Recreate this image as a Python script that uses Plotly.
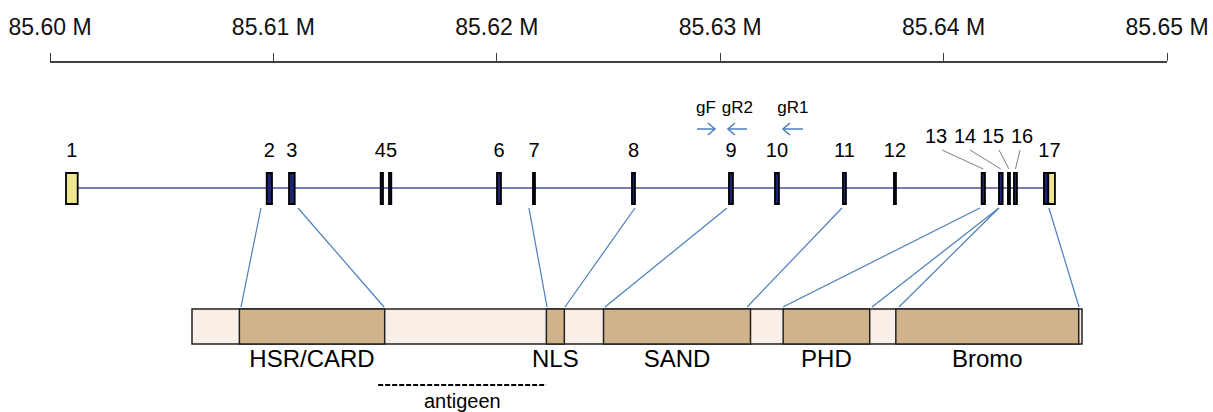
import plotly.graph_objects as go

# ---------------- data ----------------
# genomic axis ticks (bp)
tick_bp = [85600000, 85610000, 85620000, 85630000, 85640000, 85650000]
tick_text = ["85.60 M", "85.61 M", "85.62 M", "85.63 M", "85.64 M", "85.65 M"]

# exons (bp); the coding part of the last exon is given separately
exon_names = ["1", "2", "3", "4", "5", "6", "7", "8", "9", "10", "11", "12",
              "13", "14", "15", "16", "17"]
exon_start = [85600716, 85609700, 85610698, 85614802, 85615174, 85620008,
              85621619, 85626050, 85630392, 85632451, 85635495, 85637777,
              85641703, 85642477, 85642880, 85643149, 85644491]
exon_end = [85601240, 85609937, 85610953, 85614905, 85615277, 85620187,
            85621709, 85626185, 85630571, 85632630, 85635629, 85637867,
            85641851, 85642643, 85642970, 85643283, 85644984]
exon_cds_start = [None, None, None, None, None, None, None, None, None, None,
                  None, None, None, None, None, None, 85644491]
exon_cds_end = [None, None, None, None, None, None, None, None, None, None,
                None, None, None, None, None, None, 85644684]
utr_exons = ["1", "17"]

# PCR primers (bp)
primer_names = ["gF", "gR2", "gR1"]
primer_start = [85628960, 85630347, 85632809]
primer_end = [85629765, 85631198, 85633704]
primer_strand = [1, -1, -1]

# protein (amino acids)
protein_length = 545
domain_names = ["HSR/CARD", "NLS", "SAND", "PHD", "Bromo"]
domain_start = [29, 217, 252, 362, 431]
domain_end = [118, 228, 342, 415, 543]
antigen_start = 114
antigen_end = 217
antigen_label = "antigeen"

# exon-to-protein connectors: genomic position -> amino acid position
link_bp = [85609444, 85611100, 85621440, 85626185, 85630303, 85635450,
           85641627, 85642477, 85642477, 85644715]
link_aa = [30.0, 117.6, 217.4, 228.4, 252.9, 339.9, 361.9, 416.4, 432.9, 543.2]

# ---------------- layout constants ----------------
W, H = 1213, 412
AX_LEFT_PX, AX_RIGHT_PX = 50, 1167
AX_MIN, AX_MAX = 85600000, 85650000
BP_PER_PX = (AX_MAX - AX_MIN) / (AX_RIGHT_PX - AX_LEFT_PX)
AXIS_ROW = 63

# protein bar placed along the genomic axis
PROT_LEFT_BP = AX_MIN + (192 - AX_LEFT_PX) * BP_PER_PX
PROT_RIGHT_BP = AX_MIN + (1082 - AX_LEFT_PX) * BP_PER_PX


def aa_to_bp(aa):
    return PROT_LEFT_BP + aa * (PROT_RIGHT_BP - PROT_LEFT_BP) / protein_length


FONT = "Arial, Liberation Sans, sans-serif"
NAVY = "#1b2470"
YELLOW = "#efe68f"
INTRON = "#4f4f9c"
LINK = "#4a7ebb"
LIGHT = "#f9efe6"
TAN = "#d0b38b"

EXON_TOP, EXON_BOT, INTRON_ROW = 173, 204, 188
LABEL_ROW = 152
CALLOUT_ROW = 138
PRIMER_TEXT_ROW, PRIMER_ROW = 109, 129
LINK_TOP, LINK_BOT = 208, 307
BAR_TOP, BAR_BOT = 309, 344
DOMAIN_ROW = 361
ANTIGEN_ROW, ANTIGEN_TEXT_ROW = 385, 403

fig = go.Figure()
shapes = []

# intron backbone
shapes.append(dict(type="line", xref="x", yref="y",
                   x0=exon_end[0], x1=exon_start[-1], y0=INTRON_ROW, y1=INTRON_ROW,
                   line=dict(color=INTRON, width=1.5), layer="below"))

# exons
for name, s, e, cs, ce in zip(exon_names, exon_start, exon_end, exon_cds_start, exon_cds_end):
    fill = YELLOW if name in utr_exons else NAVY
    shapes.append(dict(type="rect", xref="x", yref="y", x0=s, x1=e,
                       y0=EXON_TOP, y1=EXON_BOT, fillcolor=fill,
                       line=dict(color="#000000", width=1.8)))
    if cs is not None:
        shapes.append(dict(type="rect", xref="x", yref="y", x0=cs, x1=ce,
                           y0=EXON_TOP, y1=EXON_BOT, fillcolor=NAVY,
                           line=dict(color="#000000", width=1.8)))

# exon number labels; 4 and 5 share one label, 13-16 use leader lines
callout_px = {"13": 936, "14": 965, "15": 993, "16": 1022}
leader_dx = {"13": 6, "14": 5, "15": 6, "16": -2}
label_x, label_y, label_t = [], [], []
i = 0
while i < len(exon_names):
    name = exon_names[i]
    if name == "4":
        cx = (exon_start[i] + exon_end[i + 1]) / 2
        label_x.append(cx); label_y.append(LABEL_ROW); label_t.append("45")
        i += 2
        continue
    cx = (exon_start[i] + exon_end[i]) / 2
    if name in callout_px:
        tx = AX_MIN + (callout_px[name] - AX_LEFT_PX) * BP_PER_PX
        label_x.append(tx); label_y.append(CALLOUT_ROW); label_t.append(name)
        shapes.append(dict(type="line", xref="x", yref="y",
                           x0=tx + leader_dx[name] * BP_PER_PX, y0=150, x1=cx, y1=169,
                           line=dict(color="#7f7f7f", width=1)))
    else:
        label_x.append(cx); label_y.append(LABEL_ROW); label_t.append(name)
    i += 1

fig.add_trace(go.Scatter(x=label_x, y=label_y, text=label_t, mode="text",
                         textfont=dict(family=FONT, size=20, color="#000000"),
                         cliponaxis=False, hoverinfo="skip"))

# primers: open arrowheads
wing_bp = 7 * BP_PER_PX
px_, py_ = [], []
for s, e, strand in zip(primer_start, primer_end, primer_strand):
    head, tail = (e, s) if strand > 0 else (s, e)
    back = -strand * wing_bp
    px_ += [tail, head, None, head + back, head, head + back, None]
    py_ += [PRIMER_ROW, PRIMER_ROW, None, PRIMER_ROW - 6, PRIMER_ROW, PRIMER_ROW + 6, None]
fig.add_trace(go.Scatter(x=px_, y=py_, mode="lines",
                         line=dict(color=LINK, width=1.5), hoverinfo="skip"))
fig.add_trace(go.Scatter(x=[(s + e) / 2 for s, e in zip(primer_start, primer_end)],
                         y=[PRIMER_TEXT_ROW] * len(primer_names), text=primer_names,
                         mode="text", textfont=dict(family=FONT, size=17, color="#000000"),
                         cliponaxis=False, hoverinfo="skip"))

# connectors exon -> protein
for gbp, aa in zip(link_bp, link_aa):
    shapes.append(dict(type="line", xref="x", yref="y", x0=gbp, y0=LINK_TOP,
                       x1=aa_to_bp(aa), y1=LINK_BOT,
                       line=dict(color=LINK, width=1.2)))

# protein bar
shapes.append(dict(type="rect", xref="x", yref="y", x0=aa_to_bp(0), x1=aa_to_bp(protein_length),
                   y0=BAR_TOP, y1=BAR_BOT, fillcolor=LIGHT,
                   line=dict(color="#222222", width=1.5)))
for s, e in zip(domain_start, domain_end):
    shapes.append(dict(type="rect", xref="x", yref="y", x0=aa_to_bp(s), x1=aa_to_bp(e),
                       y0=BAR_TOP, y1=BAR_BOT, fillcolor=TAN,
                       line=dict(color="#222222", width=1.5)))
fig.add_trace(go.Scatter(x=[aa_to_bp((s + e) / 2) for s, e in zip(domain_start, domain_end)],
                         y=[DOMAIN_ROW] * len(domain_names), text=domain_names,
                         mode="text", textfont=dict(family=FONT, size=24, color="#000000"),
                         cliponaxis=False, hoverinfo="skip"))

# antigen region
shapes.append(dict(type="line", xref="x", yref="y", x0=aa_to_bp(antigen_start),
                   x1=aa_to_bp(antigen_end), y0=ANTIGEN_ROW, y1=ANTIGEN_ROW,
                   line=dict(color="#000000", width=2, dash="5px,2px")))
fig.add_trace(go.Scatter(x=[aa_to_bp((antigen_start + antigen_end) / 2)], y=[ANTIGEN_TEXT_ROW],
                         text=[antigen_label], mode="text",
                         textfont=dict(family=FONT, size=20, color="#000000"),
                         cliponaxis=False, hoverinfo="skip"))

fig.update_layout(
    width=W, height=H, showlegend=False,
    margin=dict(l=AX_LEFT_PX, r=W - AX_RIGHT_PX, t=AXIS_ROW, b=0),
    paper_bgcolor="white", plot_bgcolor="white",
    shapes=shapes,
    xaxis=dict(range=[AX_MIN, AX_MAX], side="top", showgrid=False, zeroline=False,
               showline=True, linecolor="#404040", linewidth=2,
               ticks="outside", ticklen=8, tickwidth=1, tickcolor="#404040",
               tickvals=tick_bp, ticktext=tick_text, ticklabelstandoff=9,
               tickfont=dict(family=FONT, size=23, color="#111111")),
    yaxis=dict(range=[H, AXIS_ROW], visible=False, showgrid=False, zeroline=False),
)

fig.write_html("out.html")
